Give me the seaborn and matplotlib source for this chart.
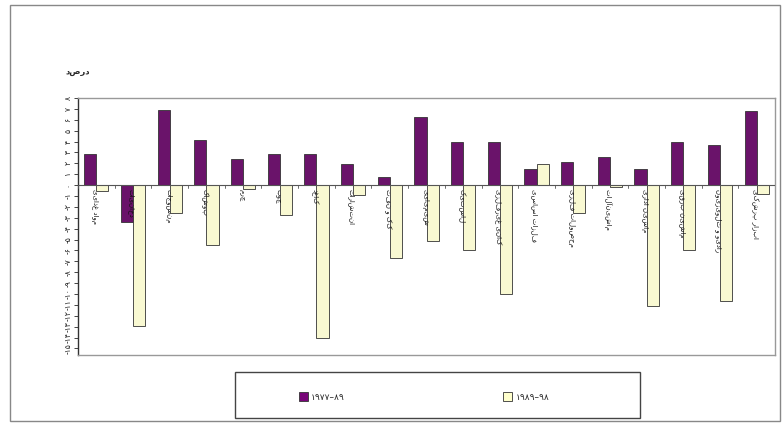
import pandas as pd
import matplotlib.pyplot as plt
import seaborn as sns
from matplotlib.patches import Rectangle

sns.set_theme(style="white")
plt.rcParams['font.family'] = ['DejaVu Sans']

# داده‌ها (خوانده شده از تصویر)
sectors = ["مواد غذایی", "دخانیات", "منسوجات", "پوشاک", "چرم", "چوب", "کاغذ",
           "انتشارات", "کک و نفت", "شیمیایی", "لاستیک", "کانی غیرفلزی", "فلزات اساسی",
           "محصولات فلزی", "ماشین‌آلات", "ماشین اداری", "ماشین برقی", "رادیو و تلویزیون",
           "ابزار پزشکی"]
period_a = [2.9, -3.4, 6.9, 4.1, 2.4, 2.9, 2.9, 1.9, 0.7, 6.3,
            4.0, 4.0, 1.5, 2.1, 2.6, 1.5, 4.0, 3.7, 6.8]
period_b = [-0.5, -12.9, -2.6, -5.5, -0.4, -2.7, -14.0, -0.9, -6.7, -5.1,
            -6.0, -10.0, 1.9, -2.6, -0.2, -11.1, -6.0, -10.6, -0.8]
series_names = ["۱۹۷۷–۸۹", "۱۹۸۹–۹۸"]
y_ticks = list(range(-15, 9))

fa_digits = str.maketrans("0123456789-", "۰۱۲۳۴۵۶۷۸۹-")
purple = "#780578"
cream = "#FFFFCC"


def to_fa(n):
    return str(n).translate(fa_digits)


df = pd.DataFrame({
    "sector": sectors * 2,
    "value": period_a + period_b,
    "period": [series_names[0]] * len(sectors) + [series_names[1]] * len(sectors),
})

fig = plt.figure(figsize=(7.84, 4.25), dpi=100)
ax = fig.add_axes([78 / 784, 1 - 355 / 425, 697 / 784, 257 / 425])

sns.barplot(data=df, x="sector", y="value", hue="period", ax=ax,
            palette=[purple, cream], width=0.66, edgecolor="#333333",
            linewidth=0.6, legend=False)

ax.set_xlim(-0.5, len(sectors) - 0.5)
ax.set_ylim(-15.6, 8)
ax.set_xlabel("")
ax.set_ylabel("")

# خط صفر با تیک‌های کوچک بین گروه‌ها
ax.axhline(0, color="#555555", linewidth=0.8, zorder=3)
ax.set_xticks([])
for i in range(len(sectors) + 1):
    ax.plot([i - 0.5, i - 0.5], [0, -0.25], color="#555555", linewidth=0.6, zorder=3)
for i, name in enumerate(sectors):
    ax.text(i - 0.05, -0.4, name[::-1], rotation=270, ha="center", va="top",
            fontsize=5, color="#111111", zorder=4)

# محور عمودی
ax.set_yticks(y_ticks)
ax.set_yticklabels([to_fa(t) for t in y_ticks], rotation=90, fontsize=5.5,
                   va="center", color="#222222")
ax.tick_params(axis="y", direction="out", length=3, width=0.6, left=True, pad=1)

for side in ["top", "right", "bottom"]:
    ax.spines[side].set_color("#999999")
    ax.spines[side].set_linewidth(1)
ax.spines["left"].set_color("#333333")
ax.spines["left"].set_linewidth(1)

fig.text(78 / 784, 1 - 72 / 425, "درصد"[::-1], fontsize=6, fontweight="bold",
         ha="center", va="center")

# راهنما
fig.patches.append(Rectangle((235 / 784, 1 - 418 / 425), 405 / 784, 46 / 425,
                             transform=fig.transFigure, fill=False,
                             edgecolor="#444444", linewidth=1))
handles = [Rectangle((0, 0), 1, 1, facecolor=purple, edgecolor="#333333", linewidth=0.6),
           Rectangle((0, 0), 1, 1, facecolor=cream, edgecolor="#333333", linewidth=0.6)]
fig.legend(handles, series_names, loc="center", bbox_to_anchor=(424 / 784, 1 - 397 / 425),
           ncol=2, frameon=False, fontsize=6.5, handlelength=1.0, handleheight=1.0,
           handletextpad=0.4, columnspacing=17.5)

# قاب بیرونی
fig.patches.append(Rectangle((10 / 784, 1 - 421 / 425), 770 / 784, 416 / 425,
                             transform=fig.transFigure, fill=False,
                             edgecolor="#888888", linewidth=1))

plt.savefig("out.png", dpi=100)
